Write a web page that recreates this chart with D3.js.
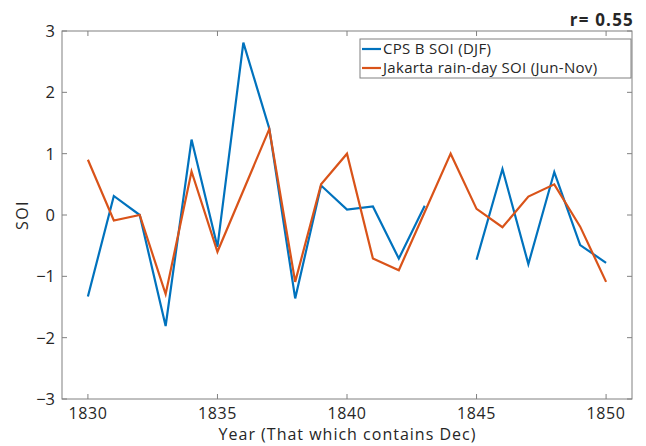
<!DOCTYPE html>
<meta charset="utf-8">
<script src="https://d3js.org/d3.v7.min.js"></script>
<style>
  body { margin: 0; background: #fff; }
  text { font-family: "Open Sans", "DejaVu Sans", sans-serif; fill: #262626; }
</style>
<div id="chart"></div>
<script>
// data
var years = d3.range(1830, 1851);
var cpsSoi = [-1.33, 0.31, 0.0, -1.81, 1.23, -0.52, 2.81, 1.41, -1.36, 0.48,
              0.09, 0.14, -0.71, 0.15, null, -0.73, 0.75, -0.8, 0.7, -0.49, -0.78];
var jakartaSoi = [0.9, -0.09, 0.0, -1.29, 0.71, -0.6, 0.4, 1.4, -1.09, 0.5,
                  1.0, -0.71, -0.9, 0.05, 1.0, 0.1, -0.2, 0.3, 0.5, -0.19, -1.09];
var xTicks = [1830, 1835, 1840, 1845, 1850];
var yTicks = [-3, -2, -1, 0, 1, 2, 3];
var seriesNames = ["CPS B SOI (DJF)", "Jakarta rain-day SOI (Jun-Nov)"];
var colors = ["#0072BD", "#D95319"];

var W = 646, H = 446;
var margin = {top: 31, right: 14, bottom: 47, left: 62};
var width = W - margin.left - margin.right,
    height = H - margin.top - margin.bottom;

var svg = d3.select("#chart").append("svg")
    .attr("width", W).attr("height", H);
var g = svg.append("g")
    .attr("transform", "translate(" + margin.left + "," + margin.top + ")");

var x = d3.scaleLinear().domain([1829, 1851]).range([0, width]);
var y = d3.scaleLinear().domain([-3, 3]).range([height, 0]);

var axisColor = "#808080";

// box
g.append("rect")
  .attr("width", width).attr("height", height)
  .attr("fill", "none").attr("stroke", axisColor).attr("stroke-width", 1);

// ticks pointing in, on all four sides
var tk = 5;
xTicks.forEach(function(t) {
  g.append("line").attr("x1", x(t)).attr("x2", x(t)).attr("y1", height).attr("y2", height - tk).attr("stroke", axisColor);
  g.append("line").attr("x1", x(t)).attr("x2", x(t)).attr("y1", 0).attr("y2", tk).attr("stroke", axisColor);
  g.append("text").attr("x", x(t)).attr("y", height + 20)
    .attr("text-anchor", "middle").attr("font-size", 16)
    .attr("letter-spacing", 0.6).text(t);
});
yTicks.forEach(function(t) {
  g.append("line").attr("x1", 0).attr("x2", tk).attr("y1", y(t)).attr("y2", y(t)).attr("stroke", axisColor);
  g.append("line").attr("x1", width).attr("x2", width - tk).attr("y1", y(t)).attr("y2", y(t)).attr("stroke", axisColor);
  g.append("text").attr("x", -7).attr("y", y(t)).attr("dy", "0.36em")
    .attr("text-anchor", "end").attr("font-size", 16.5).text(t < 0 ? "\u2212" + (-t) : t);
});

// lines
var line = d3.line()
  .defined(function(d) { return d[1] != null; })
  .x(function(d) { return x(d[0]); })
  .y(function(d) { return y(d[1]); });

[cpsSoi, jakartaSoi].forEach(function(vals, i) {
  g.append("path")
    .datum(years.map(function(yr, j) { return [yr, vals[j]]; }))
    .attr("fill", "none")
    .attr("stroke", colors[i])
    .attr("stroke-width", 2.2)
    .attr("d", line);
});

// axis labels
g.append("text").attr("x", width / 2 + 0.5).attr("y", height + 41)
  .attr("text-anchor", "middle").attr("font-size", 16)
  .attr("letter-spacing", 1).text("Year (That which contains Dec)");
g.append("text")
  .attr("transform", "translate(-34," + (height / 2) + ") rotate(-90)")
  .attr("text-anchor", "middle").attr("font-size", 16)
  .attr("letter-spacing", 1.5).text("SOI");

// title at the right
g.append("text").attr("x", width + 2).attr("y", -5)
  .attr("text-anchor", "end").attr("font-size", 17).attr("font-weight", "bold")
  .attr("letter-spacing", 1.2).text("r= 0.55");

// legend
var lg = g.append("g").attr("transform", "translate(" + (360 - margin.left) + "," + (39 - margin.top) + ")");
lg.append("rect").attr("width", 271).attr("height", 39)
  .attr("fill", "#fff").attr("stroke", axisColor);
seriesNames.forEach(function(name, i) {
  var cy = 10 + i * 19;
  lg.append("line").attr("x1", 2).attr("x2", 21).attr("y1", cy).attr("y2", cy)
    .attr("stroke", colors[i]).attr("stroke-width", 2.2);
  lg.append("text").attr("x", 23).attr("y", cy).attr("dy", "0.36em")
    .attr("font-family", "DejaVu Sans")
    .attr("font-size", 15).attr("letter-spacing", 0.3).text(name);
});
</script>
